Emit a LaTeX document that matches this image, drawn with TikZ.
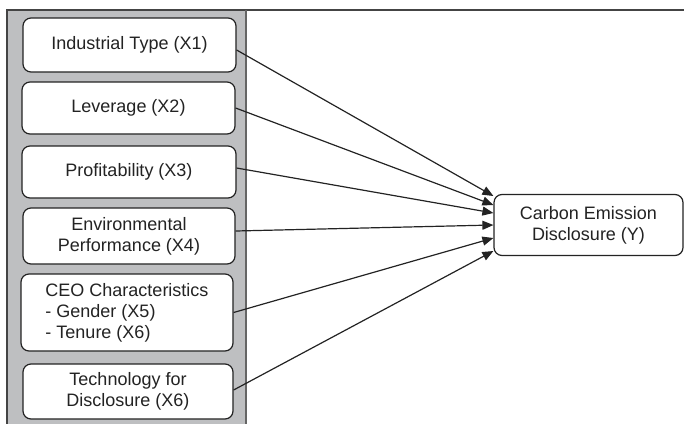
\documentclass[tikz,border=0pt]{standalone}
\usepackage{fontspec}
\setmainfont{Liberation Sans}
\usetikzlibrary{arrows.meta}
\definecolor{panel}{RGB}{190,191,193}
\definecolor{ink}{RGB}{35,35,35}
\tikzset{
  box/.style={draw=ink, line width=1.2pt, fill=white, rounded corners=8pt,
    align=center, text=ink, inner sep=0pt,
    font=\fontsize{18}{21}\selectfont},
  conn/.style={draw=ink, line width=1.2pt, -{Triangle[length=11pt,width=9pt]}}
}
\begin{document}
\begin{tikzpicture}[x=1pt,y=-1pt]
\useasboundingbox (0,0) rectangle (684,423);
% gray panel
\fill[panel] (7,10) rectangle (246,430);
\draw[ink!85, line width=1.3pt] (7,430) -- (7,10) -- (684,10);
\draw[ink!70, line width=1.2pt] (246,10) -- (246,430);
% boxes
\node[box, minimum width=213pt, minimum height=54pt] (b1) at (129.5,45) {Industrial Type (X1)};
\node[box, minimum width=213pt, minimum height=52pt] (b2) at (128.5,108) {Leverage (X2)};
\node[box, minimum width=214pt, minimum height=52pt] (b3) at (129,172) {Profitability (X3)};
\node[box, minimum width=212pt, minimum height=56pt] (b4) at (129,236) {Environmental\\Performance (X4)};
\node[box, minimum width=212pt, minimum height=77pt, align=left] (b5) at (127,312.5) {CEO Characteristics\\- Gender (X5)\\- Tenure (X6)};
\node[box, minimum width=210pt, minimum height=55pt] (b6) at (128,391.5) {Technology for\\Disclosure (X6)};
\node[box, minimum width=189pt, minimum height=61pt] (y) at (588.5,225) {Carbon Emission\\Disclosure (Y)};
% connectors
\draw[conn] ([yshift=-5pt]b1.east) -- ([yshift=29pt]y.west);
\draw[conn] (b2.east) -- ([yshift=20pt]y.west);
\draw[conn] ([yshift=4pt]b3.east) -- ([yshift=12pt]y.west);
\draw[conn] ([yshift=5pt]b4.east) -- (y.west);
\draw[conn] (b5.east) -- ([yshift=-13pt]y.west);
\draw[conn] ([yshift=1.5pt]b6.east) -- ([yshift=-26pt]y.west);
\end{tikzpicture}
\end{document}
